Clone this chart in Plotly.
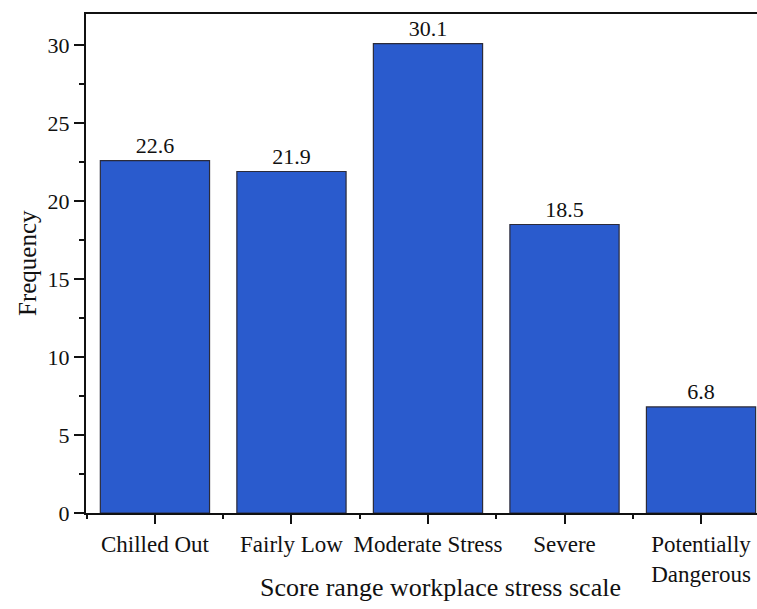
import plotly.graph_objects as go

categories = ["Chilled Out", "Fairly Low", "Moderate Stress", "Severe", "Potentially<br>Dangerous"]
values = [22.6, 21.9, 30.1, 18.5, 6.8]
positions = [0, 1, 2, 3, 4]
y_ticks = [0, 5, 10, 15, 20, 25, 30]

FONT = "Liberation Serif"

fig = go.Figure()
fig.add_trace(go.Bar(
    x=positions, y=values, width=0.8,
    marker=dict(color="#2a5bcd", line=dict(color="#2b2b3a", width=1.2)),
    text=[f"{v:.1f}" for v in values], textposition="outside",
    textfont=dict(family=FONT, size=22, color="#111"),
    cliponaxis=False,
))

fig.update_layout(
    width=757, height=609,
    margin=dict(l=86, r=0, t=14, b=96),
    paper_bgcolor="white", plot_bgcolor="white",
    showlegend=False,
    bargap=0.2,
    font=dict(family=FONT, size=22, color="#111"),
    xaxis=dict(
        range=[-0.505, 4.41],
        tickmode="array", tickvals=positions, ticktext=categories,
        ticks="outside", ticklen=9, tickwidth=1.5, tickcolor="#111",
        showline=True, linecolor="#111", linewidth=2, mirror=True,
        showgrid=False, zeroline=False,
        tickfont=dict(family=FONT, size=23, color="#111"),
        minor=dict(tickmode="linear", tick0=0.5, dtick=1, ticks="outside",
                   ticklen=4, tickwidth=1.5, tickcolor="#111", showgrid=False),
    ),
    yaxis=dict(
        range=[0, 32],
        tickmode="array", tickvals=y_ticks,
        ticks="outside", ticklen=10, tickwidth=1.5, tickcolor="#111",
        showline=True, linecolor="#111", linewidth=2, mirror=False,
        showgrid=False, zeroline=False,
        tickfont=dict(family=FONT, size=22, color="#111"),
        minor=dict(tickmode="linear", tick0=0, dtick=2.5, ticks="outside",
                   ticklen=5, tickwidth=1.5, tickcolor="#111", showgrid=False),
    ),
)

fig.add_annotation(
    text="Score range workplace stress scale", xref="paper", yref="paper",
    x=(440 - 86) / (757 - 86), y=-(604 - 513) / (513 - 14), xanchor="center", yanchor="bottom",
    showarrow=False, font=dict(family=FONT, size=26, color="#111"),
)
fig.add_annotation(
    text="Frequency", xref="paper", yref="paper",
    x=-(86 - 12) / (757 - 86), y=0.5, xanchor="left", yanchor="middle", textangle=-90,
    showarrow=False, font=dict(family=FONT, size=25, color="#111"),
)

fig.write_html(
    "out.html",
    config={"displayModeBar": False},
    post_script="document.body.style.margin='0';document.body.style.overflow='hidden';",
)
